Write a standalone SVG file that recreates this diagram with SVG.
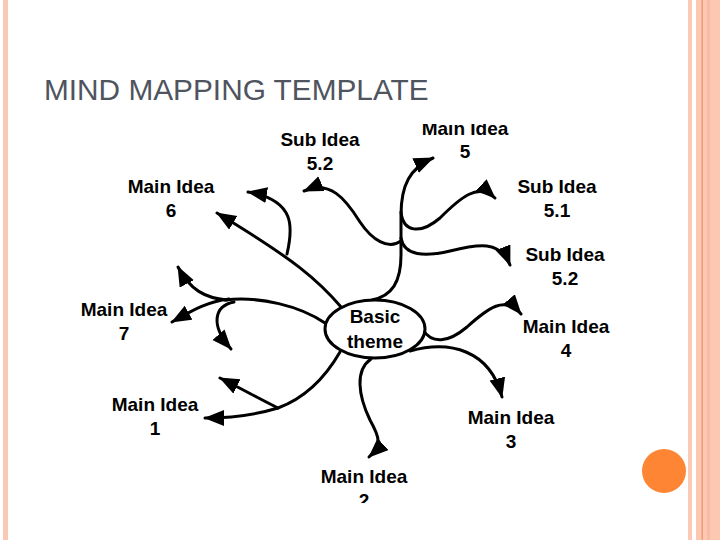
<svg xmlns="http://www.w3.org/2000/svg" width="720" height="540" viewBox="0 0 720 540">
<defs>
<style>
.lbl{font-family:"Liberation Sans",Arial,sans-serif;font-weight:bold;font-size:19px;fill:#000;text-anchor:middle}
.c{fill:none;stroke:#000;stroke-width:3;stroke-linecap:round}
.a{marker-end:url(#arr)}
</style>
<marker id="arr" markerUnits="userSpaceOnUse" markerWidth="22" markerHeight="18" refX="19" refY="8" orient="auto" viewBox="0 0 22 18">
<path d="M0,0 L20,8 L0,16 z" fill="#000"/>
</marker>
<clipPath id="clip"><rect x="0" y="124" width="680" height="379"/></clipPath>
</defs>
<rect width="720" height="540" fill="#fff"/>
<g id="frame">
<rect x="3" y="0" width="5" height="540" fill="#fbc8b4"/>
<rect x="688" y="0" width="4" height="540" fill="#fbc9b6"/>
<rect x="696" y="0" width="24" height="540" fill="#fcc8b2"/>
<rect x="701.5" y="0" width="1.5" height="540" fill="#ee9c78"/>
<rect x="707" y="0" width="3" height="540" fill="#f8bba3"/>
</g>
<text x="44" y="100" font-family="Liberation Sans, Arial, sans-serif" font-size="29.8" fill="#4f545e">MIND MAPPING TEMPLATE</text>
<circle id="dot" cx="664" cy="471" r="22" fill="#fd8533"/>
<g clip-path="url(#clip)">
<g id="connectors">
<path class="c a" d="M372 300 C392 296,401 282,401 255 L401 215 C401 185,410 168,433 158"/>
<path class="c a" d="M401 212 C403 232,420 235,440 218 C460 198,478 182,495 198"/>
<path class="c a" d="M401 238 C404 256,425 257,450 251 C478 244,500 240,510 265"/>
<path class="c a" d="M401 241 C388 250,372 240,360 222 C345 198,330 180,304 191"/>
<path class="c a" d="M287 254 C293 228,296 200,248 192"/>
<path class="c a" d="M342 308 C318 280,295 260,217 213"/>
<path class="c" d="M325 323 C300 306,260 296,225 300"/>
<path class="c a" d="M227 300 C205 298,190 290,178 267"/>
<path class="c a" d="M229 299 C205 302,190 312,172 322"/>
<path class="c a" d="M234 302 C214 306,210 325,231 349"/>
<path class="c a" d="M340 352 C325 378,305 398,278 408 C255 415,235 418,205 418"/>
<path class="c a" d="M278 408 C258 398,240 388,220 378"/>
<path class="c a" d="M423 330 C432 344,448 343,467 327 C488 308,505 295,521 314"/>
<path class="c a" d="M410 351 C450 340,490 350,502 397"/>
<path class="c a" d="M371 359 C355 370,358 395,370 420 C380 438,382 445,369 457"/>
</g>
<g id="basic"><ellipse cx="375" cy="329" rx="50" ry="29" fill="#fff" stroke="#000" stroke-width="3"/>
<text class="lbl" x="375" y="323" font-size="18.5">Basic</text><text class="lbl" x="375" y="348" font-size="18.5">theme</text></g>
<g id="main5"><text class="lbl" x="465" y="135">Main Idea</text><text class="lbl" x="465" y="158">5</text></g>
<g id="sub52a"><text class="lbl" x="320" y="146">Sub Idea</text><text class="lbl" x="320" y="170">5.2</text></g>
<g id="sub51"><text class="lbl" x="557" y="193">Sub Idea</text><text class="lbl" x="557" y="217">5.1</text></g>
<g id="sub52b"><text class="lbl" x="565" y="261">Sub Idea</text><text class="lbl" x="565" y="285">5.2</text></g>
<g id="main4"><text class="lbl" x="566" y="333">Main Idea</text><text class="lbl" x="566" y="357">4</text></g>
<g id="main3"><text class="lbl" x="511" y="424">Main Idea</text><text class="lbl" x="511" y="448">3</text></g>
<g id="main2"><text class="lbl" x="364" y="483">Main Idea</text><text class="lbl" x="364" y="507">2</text></g>
<g id="main1"><text class="lbl" x="155" y="411">Main Idea</text><text class="lbl" x="155" y="435">1</text></g>
<g id="main7"><text class="lbl" x="124" y="316">Main Idea</text><text class="lbl" x="124" y="340">7</text></g>
<g id="main6"><text class="lbl" x="171" y="193">Main Idea</text><text class="lbl" x="171" y="217">6</text></g>
</g>
</svg>
